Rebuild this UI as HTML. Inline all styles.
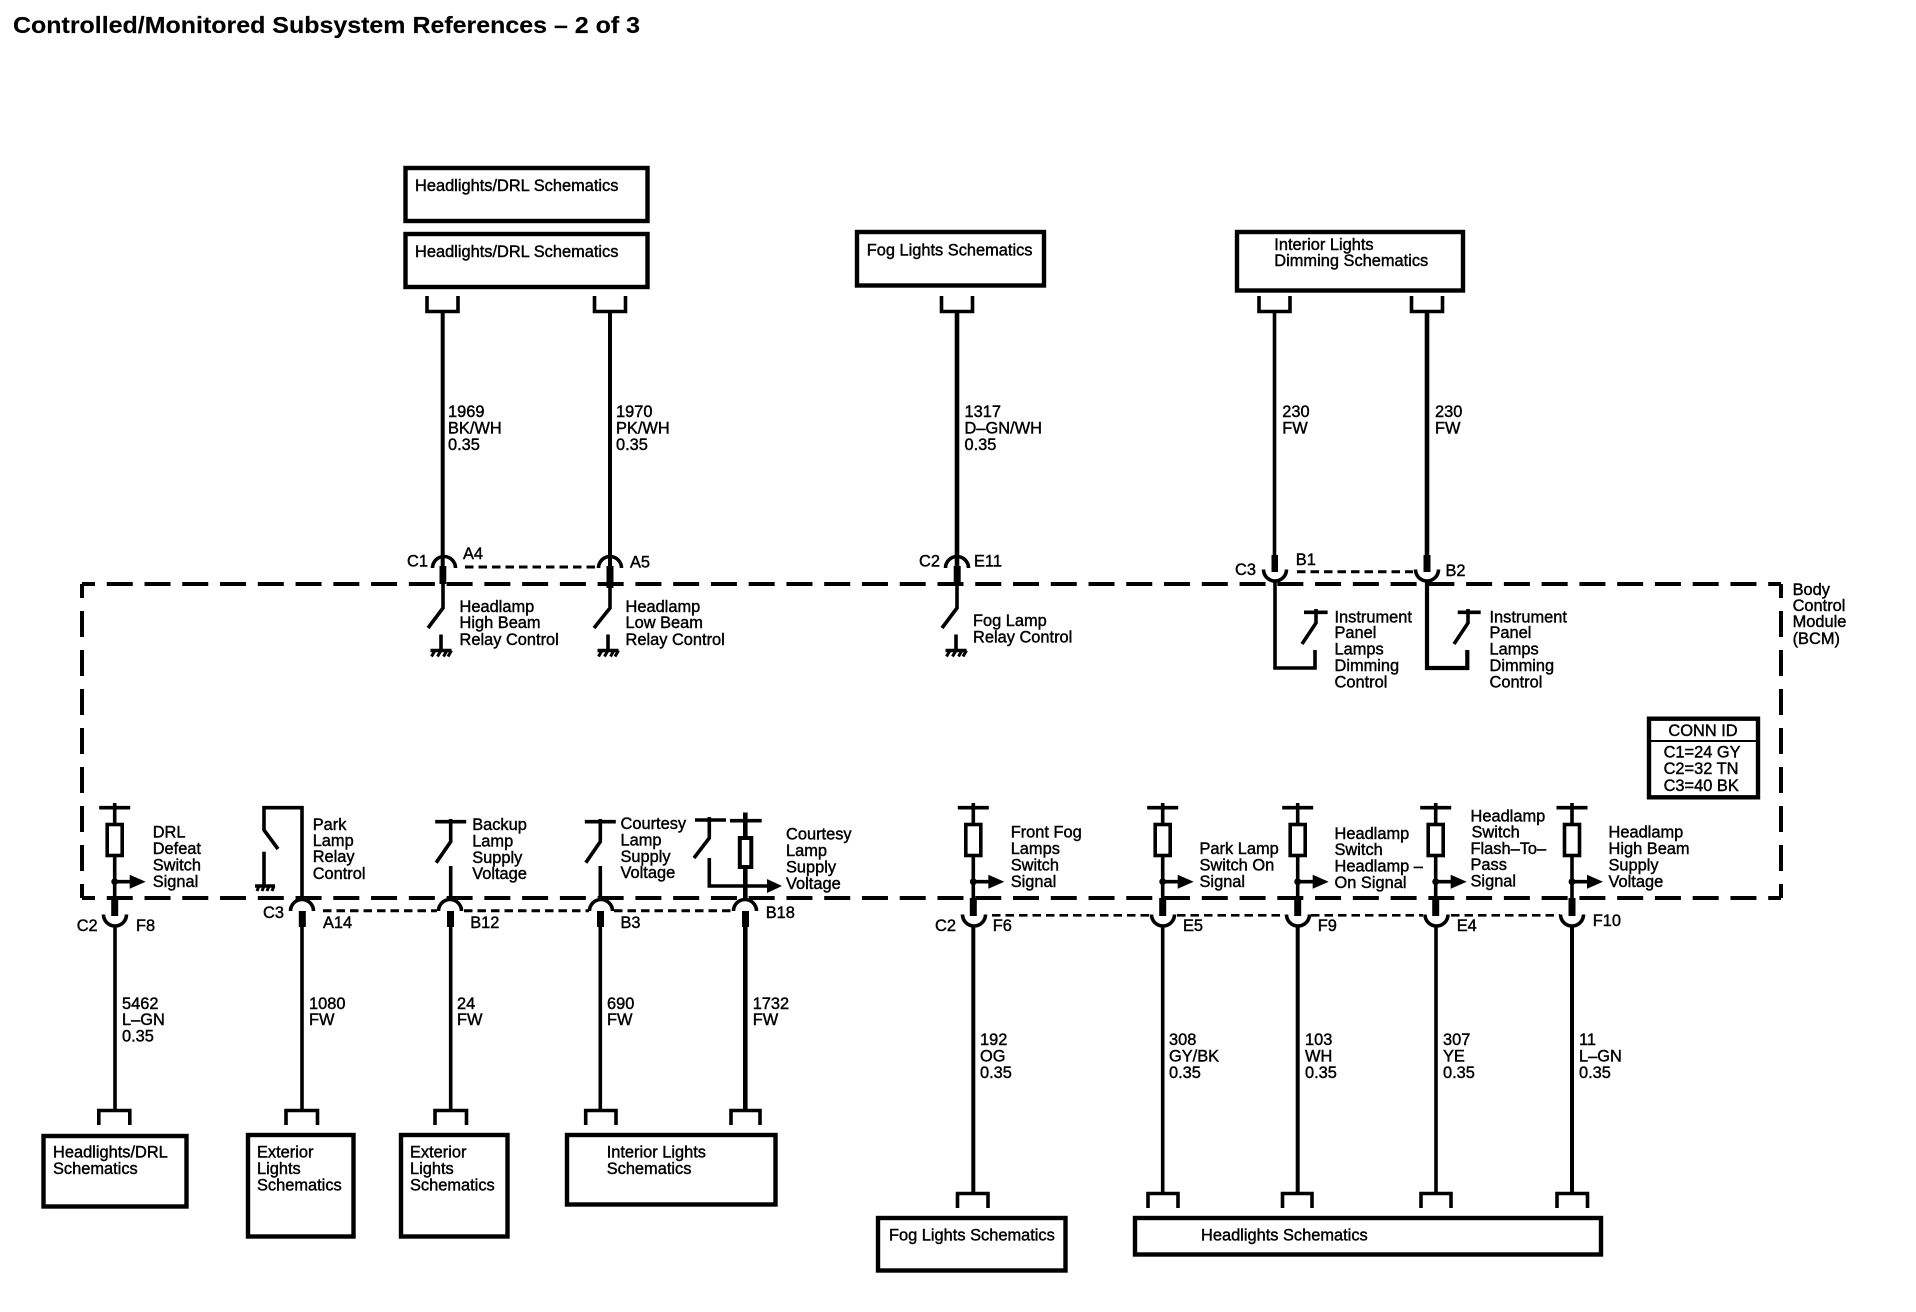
<!DOCTYPE html>
<html><head><meta charset="utf-8"><title>Controlled/Monitored Subsystem References</title>
<style>
html,body{margin:0;padding:0;background:#fff}
svg{display:block}
text{font-family:"Liberation Sans",sans-serif;font-size:16.4px;fill:#000;stroke:#000;stroke-width:.42}
.w{fill:none;stroke:#000;stroke-width:3.6}
.th{fill:none;stroke:#000;stroke-width:3}
.t{stroke-width:4.6}
.b{fill:#fff;stroke:#000;stroke-width:4.4}
.d{fill:none;stroke:#000;stroke-width:3;stroke-dasharray:8.5 5}
.m{fill:none;stroke:#000;stroke-width:4}
</style></head><body>
<svg width="1916" height="1312" viewBox="0 0 1916 1312" xmlns="http://www.w3.org/2000/svg">
<defs>
<g id="arcT"><path class="w" d="M-11.5 11.5A11.5 11.5 0 0 1 11.5 11.5"/></g>
<g id="arcU"><path class="w" d="M-11.5 -11.5A11.5 11.5 0 0 0 11.5 -11.5"/></g>
<g id="brD"><path class="w" d="M-15.5 296V311.5H15.5V296"/></g>
<g id="gnd"><path class="w" d="M0 -16V0M-10.5 0H10.5"/><path class="th" d="M-6 0L-9.5 6M0 0L-3.5 6M6 0L2.5 6M10.5 0L7 6"/></g>
<g id="res"><path class="w" d="M-15.5 807.7H15.5M0 803V824"/><rect class="w" x="-7.5" y="824.5" width="15" height="31"/><path class="w" d="M0 856V898M0 881.7H16"/><circle cx="0" cy="881.7" r="3.4"/><polygon points="15,874.7 31,881.7 15,888.7"/><rect x="-3.5" y="898" width="7" height="18"/></g>
<g id="swUp"><path class="w" d="M-15.5 821.7H15.5M0 819V841.7L-14.5 862.7M0 866V898"/></g>
</defs>

<text x="13" y="33" style="font-size:23px;font-weight:bold;stroke-width:.15" textLength="627" lengthAdjust="spacingAndGlyphs">Controlled/Monitored Subsystem References – 2 of 3</text>

<!-- module boundary -->
<path class="m" d="M82 584H1781" stroke-dasharray="26 11.76" stroke-dashoffset="13"/>
<path class="m" d="M82 898H1781" stroke-dasharray="26 11.76" stroke-dashoffset="13"/>
<path class="m" d="M82 584V898" stroke-dasharray="26 13" stroke-dashoffset="12"/>
<path class="m" d="M1781 584V898" stroke-dasharray="26 13" stroke-dashoffset="12"/>

<!-- top boxes -->
<rect class="b" x="405.5" y="168" width="242" height="53"/>
<rect class="b" x="405.5" y="234" width="242" height="53"/>
<rect class="b" x="857" y="232" width="187" height="53.5"/>
<rect class="b" x="1237" y="232" width="226" height="58.5"/>
<text x="415" y="191">Headlights/DRL Schematics</text>
<text x="415" y="257">Headlights/DRL Schematics</text>
<text x="866.7" y="255.7">Fog Lights Schematics</text>
<text x="1274.3" y="250">Interior Lights</text>
<text x="1274.3" y="266">Dimming Schematics</text>

<!-- top wires -->
<use href="#brD" x="442.5"/><use href="#brD" x="610"/><use href="#brD" x="957"/><use href="#brD" x="1274.5"/><use href="#brD" x="1427"/>
<path class="w" style="stroke-width:4" d="M442.7 312V567"/>
<path class="w" style="stroke-width:4" d="M610 312V567"/>
<path class="w t" d="M957 312V567"/>
<path class="w" d="M1274.5 312V560"/>
<path class="w t" d="M1427 312V560"/>

<text x="448" y="417">1969</text><text x="448" y="433.5">BK/WH</text><text x="448" y="450">0.35</text>
<text x="616" y="417">1970</text><text x="616" y="433.5">PK/WH</text><text x="616" y="450">0.35</text>
<text x="964.5" y="417">1317</text><text x="964.5" y="433.5">D–GN/WH</text><text x="964.5" y="450">0.35</text>
<text x="1282.3" y="417">230</text><text x="1282.3" y="433.5">FW</text>
<text x="1435" y="417">230</text><text x="1435" y="433.5">FW</text>

<!-- top connectors left -->
<use href="#arcT" x="444" y="556.5"/><use href="#arcT" x="610" y="556.5"/><use href="#arcT" x="957" y="556.5"/>
<path class="d" d="M465 567H597"/>
<rect x="439.5" y="566" width="6.8" height="18"/><rect x="606.5" y="566" width="7" height="22"/><rect x="953.7" y="566" width="7" height="20"/>
<path class="w" d="M443 584V608L428 628"/>
<path class="w" d="M610 584V608L594 628"/>
<path class="w" d="M957 584V608L942 628"/>
<use href="#gnd" x="441" y="650.5"/><use href="#gnd" x="608" y="650.5"/><use href="#gnd" x="956" y="650.5"/>
<text x="407" y="566.7">C1</text><text x="463" y="559">A4</text><text x="630" y="567.7">A5</text>
<text x="919" y="566.7">C2</text><text x="974" y="566.7">E11</text>
<text x="459.5" y="612">Headlamp</text><text x="459.5" y="628">High Beam</text><text x="459.5" y="645">Relay Control</text>
<text x="625.5" y="612">Headlamp</text><text x="625.5" y="628">Low Beam</text><text x="625.5" y="645">Relay Control</text>
<text x="973" y="626">Fog Lamp</text><text x="973" y="642.7">Relay Control</text>

<!-- top connectors right -->
<rect x="1271.5" y="555" width="6.5" height="17"/><rect x="1423.5" y="555" width="7" height="17"/>
<use href="#arcU" x="1275" y="581"/><use href="#arcU" x="1427" y="581"/>
<path class="d" d="M1297 571.7H1413"/>
<path class="w" d="M1275 582V668H1315V650"/>
<path class="w" style="stroke-width:4.2" d="M1427 582V668H1467.3V650"/>
<path class="w" d="M1304 612.3H1327.6M1316 609V623L1302 644"/>
<path class="w" d="M1457.7 612.3H1480.7M1468 609V623L1454 644"/>
<text x="1235" y="575">C3</text><text x="1295.8" y="565">B1</text><text x="1445.5" y="576">B2</text>
<text x="1334.5" y="622.3">Instrument</text><text x="1334.5" y="638">Panel</text><text x="1334.5" y="654.3">Lamps</text><text x="1334.5" y="671">Dimming</text><text x="1334.5" y="687.7">Control</text>
<text x="1489.5" y="622.3">Instrument</text><text x="1489.5" y="638">Panel</text><text x="1489.5" y="654.3">Lamps</text><text x="1489.5" y="671">Dimming</text><text x="1489.5" y="687.7">Control</text>
<text x="1792.6" y="595">Body</text><text x="1792.6" y="611">Control</text><text x="1792.6" y="627">Module</text><text x="1792.6" y="644">(BCM)</text>

<!-- conn id -->
<rect class="b" x="1649" y="718.7" width="109" height="78.6"/>
<path d="M1649 741H1758" stroke="#000" stroke-width="2"/>
<text x="1703" y="736" text-anchor="middle">CONN ID</text>
<text x="1663.6" y="757.7">C1=24 GY</text><text x="1663.6" y="774">C2=32 TN</text><text x="1663.6" y="791">C3=40 BK</text>

<!-- bottom left group -->
<use href="#res" x="114.7"/><use href="#arcU" x="115" y="926"/>
<text x="152.7" y="837.7">DRL</text><text x="152.7" y="854">Defeat</text><text x="152.7" y="870.7">Switch</text><text x="152.7" y="887">Signal</text>
<text x="76.7" y="931">C2</text><text x="136" y="931">F8</text>
<path class="w" d="M115 926V1110"/>
<text x="122" y="1009">5462</text><text x="122" y="1025">L–GN</text><text x="122" y="1041.7">0.35</text>

<path class="w" d="M302 898V807.7H264V830L278 849"/>
<path class="w" d="M264 851.7V886"/>
<path class="w" d="M255 886H275"/><path class="th" d="M259 886L257 891M264 886L262 891M269 886L267 891M274 886L272 891"/>
<use href="#arcT" x="302" y="899.5"/>
<rect x="298.8" y="911" width="7" height="16"/>
<path class="w" d="M302 925V1110"/>
<text x="312.7" y="830">Park</text><text x="312.7" y="846">Lamp</text><text x="312.7" y="862">Relay</text><text x="312.7" y="879">Control</text>
<text x="263" y="918">C3</text><text x="323" y="928">A14</text>
<text x="309" y="1009">1080</text><text x="309" y="1025">FW</text>

<use href="#swUp" x="450.7"/><use href="#arcT" x="450" y="899.5"/>
<rect x="447" y="911" width="7" height="16"/>
<path class="w" d="M450.7 925V1110"/>
<text x="472.2" y="830">Backup</text><text x="472.2" y="846.7">Lamp</text><text x="472.2" y="863">Supply</text><text x="472.2" y="879">Voltage</text>
<text x="470.2" y="928">B12</text>
<text x="457" y="1009">24</text><text x="457" y="1025">FW</text>

<use href="#swUp" x="600.3"/><use href="#arcT" x="601" y="899.5"/>
<rect x="597" y="911" width="7" height="16"/>
<path class="w" d="M600.3 925V1110"/>
<text x="620.5" y="829">Courtesy</text><text x="620.5" y="845.7">Lamp</text><text x="620.5" y="862">Supply</text><text x="620.5" y="878">Voltage</text>
<text x="620.5" y="928">B3</text>
<text x="607" y="1009">690</text><text x="607" y="1025">FW</text>

<path class="w" d="M695 820H726M709.3 817V838L694 858M709.3 858V886H768"/>
<polygon points="767,879 782,886 767,893"/>
<path class="w t" d="M745.3 812.5V836.5M745.3 868V898"/>
<path class="w" d="M730 820.7H761.7"/>
<rect class="w" x="739.8" y="838" width="11.5" height="29" style="stroke-width:4"/>
<use href="#arcT" x="745" y="899.5"/>
<rect x="742" y="911" width="7" height="16"/>
<path class="w t" d="M745.3 925V1110"/>
<text x="786" y="839.3">Courtesy</text><text x="786" y="856">Lamp</text><text x="786" y="872.7">Supply</text><text x="786" y="889">Voltage</text>
<text x="765.7" y="918">B18</text>
<text x="752.7" y="1009">1732</text><text x="752.7" y="1025">FW</text>

<path class="d" d="M323 910.7H437M464 910.7H589M614 910.7H733"/>

<!-- bottom right group -->
<use href="#res" x="973.3"/><use href="#arcU" x="974" y="926"/>
<path class="w" style="stroke-width:4" d="M973.3 926V1193"/>
<text x="1010.7" y="837.7">Front Fog</text><text x="1010.7" y="854">Lamps</text><text x="1010.7" y="870.7">Switch</text><text x="1010.7" y="887">Signal</text>
<text x="935" y="931">C2</text><text x="992.7" y="931">F6</text>
<text x="980" y="1045">192</text><text x="980" y="1061.5">OG</text><text x="980" y="1078">0.35</text>

<use href="#res" x="1162.7"/><use href="#arcU" x="1163" y="926"/>
<path class="w" d="M1162.7 926V1193"/>
<text x="1199.5" y="854">Park Lamp</text><text x="1199.5" y="870.7">Switch On</text><text x="1199.5" y="887">Signal</text>
<text x="1183" y="931">E5</text>
<text x="1169" y="1045">308</text><text x="1169" y="1061.5">GY/BK</text><text x="1169" y="1078">0.35</text>

<use href="#res" x="1297.7"/><use href="#arcU" x="1298" y="926"/>
<path class="w" style="stroke-width:4" d="M1297.7 926V1193"/>
<text x="1334.5" y="839">Headlamp</text><text x="1334.5" y="855">Switch</text><text x="1334.5" y="871.7">Headlamp –</text><text x="1334.5" y="888">On Signal</text>
<text x="1317.7" y="931">F9</text>
<text x="1305" y="1045">103</text><text x="1305" y="1061.5">WH</text><text x="1305" y="1078">0.35</text>

<use href="#res" x="1435.7"/><use href="#arcU" x="1436.5" y="926"/>
<path class="w" d="M1436 926V1193"/>
<text x="1470.5" y="821.7">Headlamp</text><text x="1471.5" y="837.7">Switch</text><text x="1470.5" y="854">Flash–To–</text><text x="1470.5" y="870">Pass</text><text x="1470.5" y="886.7">Signal</text>
<text x="1456.7" y="931">E4</text>
<text x="1443" y="1045">307</text><text x="1443" y="1061.5">YE</text><text x="1443" y="1078">0.35</text>

<use href="#res" x="1572"/><use href="#arcU" x="1572" y="926"/>
<path class="w" style="stroke-width:4" d="M1572 926V1193"/>
<text x="1608.5" y="837.7">Headlamp</text><text x="1608.5" y="854">High Beam</text><text x="1608.5" y="870.7">Supply</text><text x="1608.5" y="887">Voltage</text>
<text x="1592.7" y="926">F10</text>
<text x="1579" y="1045">11</text><text x="1579" y="1061.5">L–GN</text><text x="1579" y="1078">0.35</text>

<path class="d" style="stroke-width:2.6" d="M992 915.3H1150M1177 915.3H1285M1311 915.3H1423M1451 915.3H1560"/>

<!-- bottom brackets -->
<path class="w" d="M98.8 1125V1110.5H129.8V1125M286 1125V1110.5H317.5V1125M435 1125V1110.5H466.5V1125M585.7 1125V1110.5H616V1125M731 1125V1110.5H760V1125"/>
<path class="w" d="M957.5 1208V1193.5H988V1208M1148 1208V1193.5H1178V1208M1282.5 1208V1193.5H1312V1208M1421 1208V1193.5H1451V1208M1557 1208V1193.5H1587.5V1208"/>

<!-- bottom boxes -->
<rect class="b" x="43.5" y="1136" width="143" height="70.5"/>
<rect class="b" x="248" y="1135" width="105.5" height="101.5"/>
<rect class="b" x="401" y="1135" width="106.5" height="101.5"/>
<rect class="b" x="567" y="1135" width="208.5" height="69.5"/>
<rect class="b" x="878" y="1218" width="187.5" height="52.5"/>
<rect class="b" x="1135" y="1218" width="466" height="36.5"/>
<text x="53" y="1157.7">Headlights/DRL</text><text x="53" y="1174">Schematics</text>
<text x="257" y="1157.7">Exterior</text><text x="257" y="1174">Lights</text><text x="257" y="1190.7">Schematics</text>
<text x="410" y="1157.7">Exterior</text><text x="410" y="1174">Lights</text><text x="410" y="1190.7">Schematics</text>
<text x="606.7" y="1157.7">Interior Lights</text><text x="606.7" y="1174">Schematics</text>
<text x="889" y="1240.7">Fog Lights Schematics</text>
<text x="1201" y="1240.7">Headlights Schematics</text>
</svg>
</body></html>
